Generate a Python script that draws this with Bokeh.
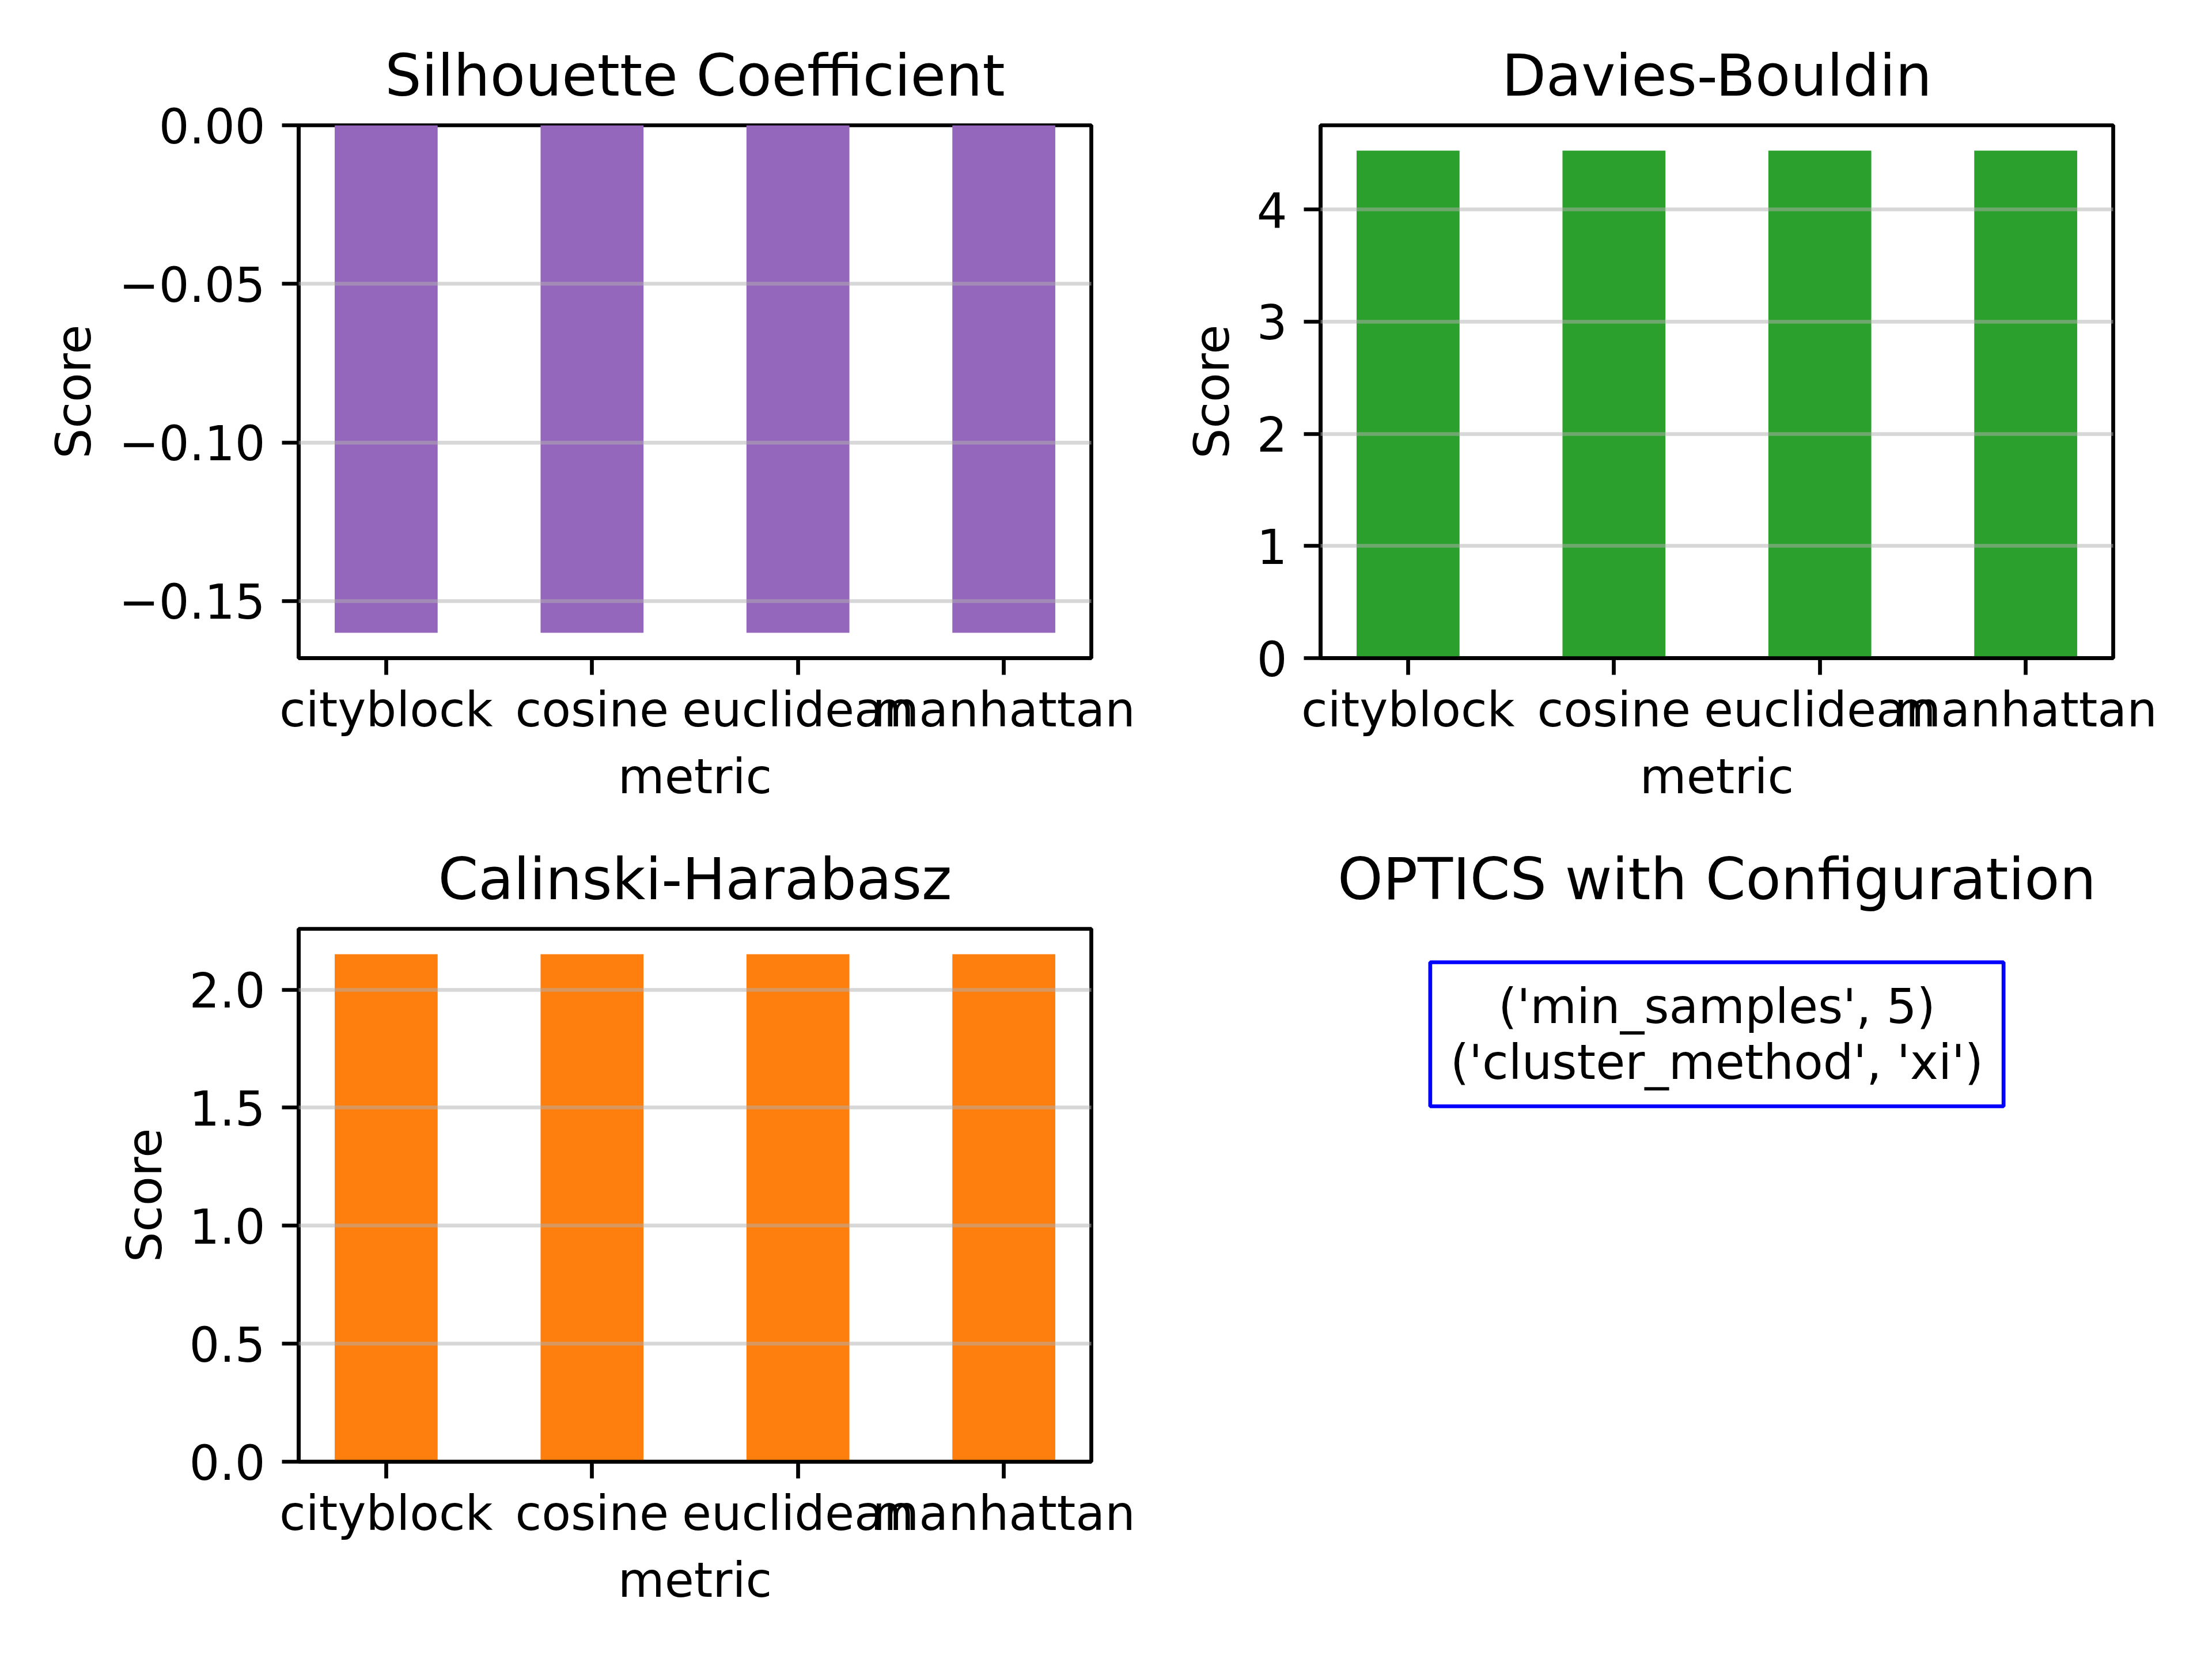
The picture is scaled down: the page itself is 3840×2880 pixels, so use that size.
from bokeh.plotting import figure
from bokeh.layouts import column, row
from bokeh.models import Range1d, FixedTicker, Label, ColumnDataSource, LinearAxis
from bokeh.embed import file_html
from bokeh.resources import INLINE

# ---- data ----
metrics = ["cityblock", "cosine", "euclidean", "manhattan"]
silhouette = [-0.160, -0.160, -0.160, -0.160]
davies_bouldin = [4.525, 4.525, 4.525, 4.525]
calinski = [2.150, 2.150, 2.150, 2.150]

sil_ticks = [0.0, -0.05, -0.10, -0.15]
sil_labels = ["0.00", "\u22120.05", "\u22120.10", "\u22120.15"]
db_ticks = [0, 1, 2, 3, 4]
db_labels = ["0", "1", "2", "3", "4"]
ch_ticks = [0.0, 0.5, 1.0, 1.5, 2.0]
ch_labels = ["0.0", "0.5", "1.0", "1.5", "2.0"]

titles = ["Silhouette Coefficient", "Davies-Bouldin", "Calinski-Harabasz", "OPTICS with Configuration"]
config_lines = ["('min_samples', 5)", "('cluster_method', 'xi')"]

FONT = "DejaVu Sans"
TICK = "83px"
TITLE = "75pt"
LW = 6.7

FRAME_W = 1376
FRAME_H = 925
W_LEFT = 2020
W_RIGHT = 3840 - W_LEFT
H_TOP = 1440
H_BOT = 2880 - H_TOP


def add_title(p, text):
    ax = LinearAxis(
        ticker=FixedTicker(ticks=[]), axis_label=text,
        axis_line_color=None, major_tick_line_color=None, minor_tick_line_color=None,
        major_tick_out=0, major_tick_in=0, minor_tick_out=0, minor_tick_in=0,
        major_label_text_font_size="0px", major_label_standoff=0,
        axis_label_standoff=28, axis_label_text_font=FONT, axis_label_text_font_size=TITLE,
        axis_label_text_font_style="normal", axis_label_text_color="black",
    )
    p.add_layout(ax, "above")


def make_panel(title, values, color, ticks, labels, left_border, top_border, bottom_border, width):
    idx = list(range(len(metrics)))
    lo = min(0.0, min(values))
    hi = max(0.0, max(values))
    span = hi - lo
    y0 = lo - 0.05 * span if lo < 0 else 0.0
    y1 = hi + 0.05 * span if hi > 0 else 0.0
    p = figure(
        frame_width=FRAME_W, frame_height=FRAME_H,
        min_border_left=left_border, min_border_right=width - left_border - FRAME_W,
        min_border_top=top_border, min_border_bottom=bottom_border,
        x_range=Range1d(-0.425, 3.425), y_range=Range1d(y0, y1),
        toolbar_location=None, output_backend="svg",
    )
    src = ColumnDataSource(dict(x=idx, top=values))
    p.vbar(x="x", top="top", bottom=0, width=0.5, source=src, fill_color=color, line_color=None)

    xa = p.xaxis[0]
    ya = p.yaxis[0]
    xa.ticker = FixedTicker(ticks=idx)
    xa.major_label_overrides = {i: m for i, m in zip(idx, metrics)}
    ya.ticker = FixedTicker(ticks=ticks)
    ya.major_label_overrides = {t: l for t, l in zip(ticks, labels)}
    xa.axis_label = "metric"
    ya.axis_label = "Score"

    for ax in (xa, ya):
        ax.axis_label_text_font = FONT
        ax.axis_label_text_font_size = TICK
        ax.axis_label_text_font_style = "normal"
        ax.axis_label_text_color = "black"
        ax.major_label_text_font = FONT
        ax.major_label_text_font_size = TICK
        ax.major_label_text_color = "black"
        ax.axis_line_color = "black"
        ax.axis_line_width = LW
        ax.major_tick_line_color = "black"
        ax.major_tick_line_width = LW
        ax.major_tick_out = 29
        ax.major_tick_in = 0
        ax.minor_tick_line_color = None
    xa.major_label_standoff = 12
    xa.axis_label_standoff = 16
    ya.major_label_standoff = 29
    ya.axis_label_standoff = 26

    p.xgrid.visible = False
    p.ygrid.grid_line_color = "#b0b0b0"
    p.ygrid.grid_line_alpha = 0.5
    p.ygrid.grid_line_width = LW
    p.ygrid.level = "overlay"

    p.outline_line_color = "black"
    p.outline_line_width = LW
    p.background_fill_color = "white"
    p.border_fill_color = "white"

    add_title(p, title)
    return p


p1 = make_panel(titles[0], silhouette, "#9467bd", sil_ticks, sil_labels,
                518, 217, H_TOP - 217 - FRAME_H, W_LEFT)
p2 = make_panel(titles[1], davies_bouldin, "#2ca02c", db_ticks, db_labels,
                2292 - W_LEFT, 217, H_TOP - 217 - FRAME_H, W_RIGHT)
p3 = make_panel(titles[2], calinski, "#ff7f0e", ch_ticks, ch_labels,
                518, 1612 - H_TOP, H_BOT - (1612 - H_TOP) - FRAME_H, W_LEFT)

# text panel
p4 = figure(
    frame_width=FRAME_W, frame_height=FRAME_H,
    min_border_left=2292 - W_LEFT, min_border_right=W_RIGHT - (2292 - W_LEFT) - FRAME_W,
    min_border_top=1612 - H_TOP, min_border_bottom=H_BOT - (1612 - H_TOP) - FRAME_H,
    x_range=Range1d(0, 1), y_range=Range1d(0, 1),
    x_axis_location=None, y_axis_location=None,
    toolbar_location=None, output_backend="svg",
)
p4.grid.visible = False
p4.outline_line_color = None
p4.background_fill_color = "white"
p4.border_fill_color = "white"
add_title(p4, titles[3])
p4.add_layout(Label(
    x=0.5, y=(2537 - 1795) / FRAME_H, x_units="data", y_units="data",
    text="\n".join(config_lines), text_align="center", text_baseline="middle",
    text_font=FONT, text_font_size=TICK, text_color="black", text_line_height=1.0,
    border_line_color="blue", border_line_width=LW,
    background_fill_color="white", padding=dict(x=35, y=28),
))

layout = column(row(p1, p2), row(p3, p4))
open("out.html", "w").write(file_html(layout, INLINE))
